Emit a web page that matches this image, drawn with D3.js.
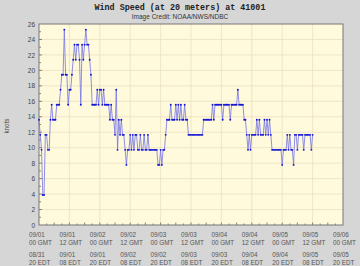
<!DOCTYPE html>
<html>
<head>
<meta charset="utf-8">
<script src="https://cdn.jsdelivr.net/npm/d3@7/dist/d3.min.js"></script>
<style>
  body { margin: 0; background: #d6d6d6; }
  svg { display: block; }
  .tick text { font-family: "Liberation Sans", Arial, sans-serif; }
</style>
</head>
<body>
<div id="chart"></div>
<script>
var svgWidth = 360;
var svgHeight = 266;

var margin = { top: 24, right: 17, bottom: 41, left: 39 };
var width = svgWidth - margin.left - margin.right;
var height = svgHeight - margin.top - margin.bottom;

// half-hourly wind speed in m/s starting 09/01 00 GMT (converted to knots below)
var speedMs = [7, 6, 5, 2, 2, 6, 6, 5, 5, 7,
  8, 7, 7, 7, 8, 8, 8, 9, 10, 10,
  13, 10, 10, 8, 9, 9, 10, 11, 12, 11,
  12, 12, 11, 8, 12, 11, 12, 13, 12, 12,
  11, 10, 8, 8, 8, 8, 9, 8, 9, 9,
  8, 9, 8, 8, 8, 8, 7, 8, 7, 7,
  6, 9, 5, 7, 6, 7, 6, 6, 5, 4,
  5, 5, 6, 5, 6, 5, 6, 6, 5, 5,
  6, 5, 5, 6, 5, 5, 6, 5, 5, 5,
  5, 5, 5, 5, 4, 4, 5, 4, 5, 5,
  6, 7, 7, 7, 8, 7, 7, 7, 8, 7,
  8, 7, 8, 7, 7, 8, 7, 7, 6, 6,
  6, 6, 6, 6, 6, 6, 6, 6, 6, 6,
  7, 7, 7, 7, 7, 7, 7, 8, 7, 8,
  8, 8, 8, 8, 8, 7, 8, 8, 8, 8,
  8, 7, 8, 8, 8, 8, 8, 9, 8, 8,
  8, 8, 7, 7, 6, 5, 6, 5, 6, 6,
  6, 6, 7, 6, 7, 6, 6, 6, 7, 6,
  7, 6, 7, 6, 5, 5, 5, 5, 5, 5,
  5, 5, 4, 5, 5, 5, 6, 5, 6, 5,
  5, 4, 6, 6, 5, 6, 6, 6, 6, 5,
  6, 6, 6, 6, 6, 5, 6];
var yTicks = [0, 2, 4, 6, 8, 10, 12, 14, 16, 18, 20, 22, 24, 26];
var gmtLabels = ["09/01|00 GMT", "09/01|12 GMT", "09/02|00 GMT", "09/02|12 GMT", "09/03|00 GMT",
  "09/03|12 GMT", "09/04|00 GMT", "09/04|12 GMT", "09/05|00 GMT", "09/05|12 GMT", "09/06|00 GMT"];
var edtLabels = ["08/31|20 EDT", "09/01|08 EDT", "09/01|20 EDT", "09/02|08 EDT", "09/02|20 EDT",
  "09/03|08 EDT", "09/03|20 EDT", "09/04|08 EDT", "09/04|20 EDT", "09/05|08 EDT", "09/05|20 EDT"];

var start = new Date(Date.UTC(2000, 8, 1, 0));
var end = new Date(Date.UTC(2000, 8, 6, 0));
var data = speedMs.map(function(v, i) {
  return { t: new Date(start.getTime() + i * 1800000), knots: v * 1.944 };
});

var svg = d3.select("#chart").append("svg")
  .attr("width", svgWidth)
  .attr("height", svgHeight);

svg.append("rect").attr("width", svgWidth).attr("height", svgHeight).attr("fill", "#d6d6d6");

svg.append("text")
  .attr("x", 180).attr("y", 9.5)
  .attr("text-anchor", "middle")
  .attr("font-family", "'Liberation Mono', 'DejaVu Sans Mono', monospace")
  .attr("font-weight", "bold")
  .attr("font-size", 8.4)
  .attr("fill", "#222")
  .text("Wind Speed (at 20 meters) at 41001");

svg.append("text")
  .attr("x", 180).attr("y", 19)
  .attr("text-anchor", "middle")
  .attr("font-family", "'Liberation Sans', Arial, sans-serif")
  .attr("font-size", 6.5)
  .attr("fill", "#333")
  .text("Image Credit: NOAA/NWS/NDBC");

var chartGroup = svg.append("g")
  .attr("transform", `translate(${margin.left}, ${margin.top})`);

var x = d3.scaleUtc().domain([start, end]).range([0, width]);
var y = d3.scaleLinear().domain([0, 26]).range([height, 0]);

chartGroup.append("rect")
  .attr("width", width).attr("height", height)
  .attr("fill", "#fffadc");

var majorTimes = d3.utcHour.every(12).range(start, new Date(end.getTime() + 1));

// grid
chartGroup.append("g").selectAll("line").data(yTicks.slice(1, -1)).enter().append("line")
  .attr("x1", 0).attr("x2", width)
  .attr("y1", d => y(d)).attr("y2", d => y(d))
  .attr("stroke", "#eadfc0").attr("stroke-width", 0.8);
chartGroup.append("g").selectAll("line").data(majorTimes.slice(1, -1)).enter().append("line")
  .attr("y1", 0).attr("y2", height)
  .attr("x1", d => x(d)).attr("x2", d => x(d))
  .attr("stroke", "#eadfc0").attr("stroke-width", 0.8);

var leftAxis = d3.axisLeft(y).tickValues(yTicks).tickSize(0).tickPadding(4);
var yAxisG = chartGroup.append("g").call(leftAxis);
yAxisG.select(".domain").remove();
yAxisG.selectAll("text").attr("font-size", 6.5).attr("fill", "#444");

// minor ticks
chartGroup.append("g").selectAll("line").data(d3.range(1, 26)).enter().append("line")
  .attr("x1", 0).attr("x2", d => d % 2 ? 2 : 3)
  .attr("y1", d => y(d)).attr("y2", d => y(d))
  .attr("stroke", "#555").attr("stroke-width", 0.7);

var minorTimes = d3.utcHour.every(3).range(start, end);
chartGroup.append("g").selectAll("line").data(minorTimes.slice(1)).enter().append("line")
  .attr("x1", d => x(d)).attr("x2", d => x(d))
  .attr("y1", height).attr("y2", d => height - (d.getUTCHours() % 6 === 0 ? 2.5 : 1.5))
  .attr("stroke", "#555").attr("stroke-width", 0.7);

// frame
chartGroup.append("rect")
  .attr("width", width).attr("height", height)
  .attr("fill", "none").attr("stroke", "#777").attr("stroke-width", 1);

// x labels (two time zones)
var labelGroup = chartGroup.append("g")
  .attr("font-family", "'Liberation Sans', Arial, sans-serif")
  .attr("font-size", 6.3)
  .attr("fill", "#555");
[gmtLabels, edtLabels].forEach(function(labels, row) {
  labels.forEach(function(lab, i) {
    var parts = lab.split("|");
    var g = labelGroup.append("text")
      .attr("x", x(majorTimes[i]) - 10)
      .attr("y", height + 12 + row * 20);
    g.append("tspan").text(parts[0]);
    g.append("tspan").attr("x", x(majorTimes[i]) - 10).attr("dy", 8).text(parts[1]);
  });
});

svg.append("text")
  .attr("transform", "translate(9, 126) rotate(-90)")
  .attr("text-anchor", "middle")
  .attr("font-family", "'Liberation Sans', Arial, sans-serif")
  .attr("font-size", 6.3)
  .attr("fill", "#444")
  .text("knots");

// series
var line = d3.line().x(d => x(d.t)).y(d => y(d.knots));
chartGroup.append("path")
  .datum(data)
  .attr("d", line)
  .attr("fill", "none")
  .attr("stroke", "#7474e8")
  .attr("stroke-width", 0.8);

chartGroup.selectAll("circle.pt").data(data).enter().append("circle")
  .attr("class", "pt")
  .attr("cx", d => x(d.t))
  .attr("cy", d => y(d.knots))
  .attr("r", 0.95)
  .attr("fill", "#1414d4");
</script>
</body>
</html>
